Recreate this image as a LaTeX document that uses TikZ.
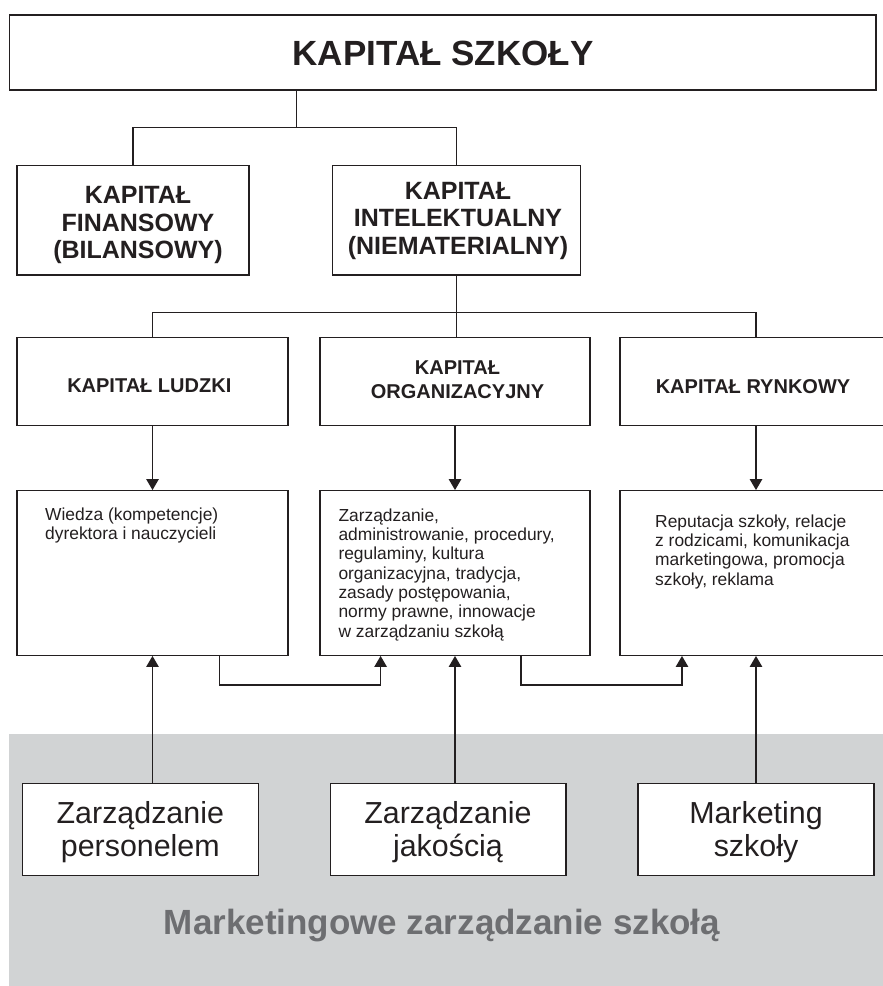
\documentclass[tikz,border=0pt]{standalone}
\usepackage{fontspec}
\setmainfont{Liberation Sans}
\usetikzlibrary{arrows.meta}
\definecolor{ink}{HTML}{231F20}
\definecolor{bandgray}{HTML}{D1D3D4}
\definecolor{bandtext}{HTML}{6D6E71}
\begin{document}
\begin{tikzpicture}[x=1pt,y=-1pt,
  box/.style={draw=ink, line width=1.3pt, fill=white, rectangle, inner sep=0pt},
  conn/.style={draw=ink, line width=1.2pt},
  arr/.style={conn, -{Triangle[width=12.5pt,length=11pt]}},
  headA/.style={font=\bfseries\fontsize{25}{27.7}\selectfont, align=center, inner sep=0pt, text=ink},
  headB/.style={font=\bfseries\fontsize{20}{24.3}\selectfont, align=center, inner sep=0pt, text=ink},
  bodytxt/.style={font=\fontsize{17.4}{19.3}\selectfont, align=left, inner sep=0pt, text=ink, anchor=north west},
  bigtxt/.style={font=\fontsize{30.4}{33.4}\selectfont, align=center, inner sep=0pt, text=ink, anchor=north}]
\useasboundingbox (0,0) rectangle (883,986);
\fill[white] (0,0) rectangle (883,986);
% grey band
\fill[bandgray] (9,734) rectangle (883,986);

% boxes
\node[box, minimum width=866.4pt, minimum height=75pt] (top) at (442.8,52.5) {};
\node[box, minimum width=232pt, minimum height=109.3pt] (fin) at (133,220.35) {};
\node[box, minimum width=248pt, minimum height=109.3pt] (intel) at (456.5,220.35) {};
\node[box, minimum width=271pt, minimum height=87.8pt] (lud) at (152.5,381.6) {};
\node[box, minimum width=270pt, minimum height=87.8pt] (org) at (455,381.6) {};
\node[box, minimum width=272pt, minimum height=87.8pt] (ryn) at (756,381.6) {};
\node[box, minimum width=271pt, minimum height=164.6pt] (lud4) at (152.5,573) {};
\node[box, minimum width=270pt, minimum height=164.6pt] (org4) at (455,573) {};
\node[box, minimum width=272pt, minimum height=164.6pt] (ryn4) at (756,573) {};
\node[box, minimum width=236pt, minimum height=92.4pt] (zp) at (140.3,829.5) {};
\node[box, minimum width=235.5pt, minimum height=92.4pt] (zj) at (448.25,829.5) {};
\node[box, minimum width=236pt, minimum height=92.4pt] (ms) at (756,829.5) {};

% texts
\node[font=\bfseries\fontsize{35}{40}\selectfont, text=ink, anchor=base] (ttop) at (443,65.7) {KAPITAŁ SZKOŁY};
\node[headA, anchor=north] (tfin) at (138,186) {KAPITAŁ\\FINANSOWY\\(BILANSOWY)};
\node[headA, anchor=north] (tintel) at (458,181.6) {KAPITAŁ\\INTELEKTUALNY\\(NIEMATERIALNY)};
\node[headB, anchor=base] (tlud) at (149.3,392.7) {KAPITAŁ LUDZKI};
\node[headB, anchor=north] (torg) at (457.5,360.7) {KAPITAŁ\\ORGANIZACYJNY};
\node[headB, anchor=base] (tryn) at (753,393.3) {KAPITAŁ RYNKOWY};
\node[bodytxt] (tlud4) at (45,507.4) {Wiedza (kompetencje)\\dyrektora i nauczycieli};
\node[bodytxt] (torg4) at (338.3,508.4) {Zarządzanie,\\administrowanie, procedury,\\regulaminy, kultura\\organizacyjna, tradycja,\\zasady postępowania,\\normy prawne, innowacje\\w zarządzaniu szkołą};
\node[bodytxt] (tryn4) at (655,514.4) {Reputacja szkoły, relacje\\z rodzicami, komunikacja\\marketingowa, promocja\\szkoły, reklama};
\node[bigtxt] (tzp) at (140.3,801.2) {Zarządzanie\\personelem};
\node[bigtxt] (tzj) at (448,801.2) {Zarządzanie\\jakością};
\node[bigtxt] (tms) at (756,801.2) {Marketing\\szkoły};
\node[font=\bfseries\fontsize{35}{40}\selectfont, text=bandtext, anchor=base] (tband) at (442,934) {Marketingowe zarządzanie szkołą};

% tree connectors
\coordinate (j1) at (296.7,127.7);
\coordinate (j2) at (456.5,312.7);
\draw[conn] (j1 |- top.south) -- (j1);
\draw[conn] (fin.north) |- (intel.north |- j1) -- (intel.north);
\draw[conn] (intel.south) -- (intel.south |- org.north);
\draw[conn] (lud.north) |- (ryn.north |- j2) -- (ryn.north);

% arrows down
\draw[arr] (lud.south) -- (lud4.north);
\draw[arr] (org.south) -- (org4.north);
\draw[arr] (ryn.south) -- (ryn4.north);

% arrows up from bottom boxes
\draw[arr] (lud4.south |- zp.north) -- (lud4.south);
\draw[arr] (org4.south |- zj.north) -- (org4.south);
\draw[arr] (ryn4.south |- ms.north) -- (ryn4.south);

% cross connectors
\coordinate (h1) at (219.6,685);
\coordinate (h1e) at (380.6,685);
\coordinate (h2) at (521,685);
\coordinate (h2e) at (682,685);
\draw[arr] (h1 |- lud4.south) -- (h1) -- (h1e) -- (h1e |- org4.south);
\draw[arr] (h2 |- org4.south) -- (h2) -- (h2e) -- (h2e |- ryn4.south);
\end{tikzpicture}
\end{document}
